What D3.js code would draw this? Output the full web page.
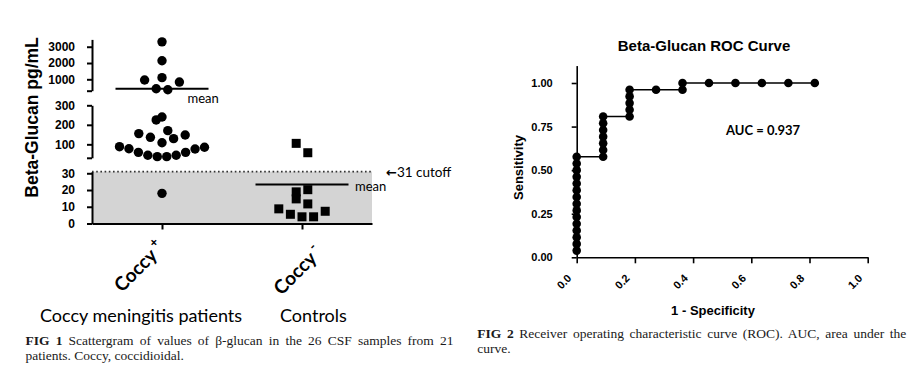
<!DOCTYPE html>
<html><head><meta charset="utf-8">
<script src="https://cdn.jsdelivr.net/npm/d3@7"></script>
<style>
html,body{margin:0;padding:0;background:#fff;}
svg{display:block;}
</style></head>
<body>
<svg id="chart" width="916" height="380"></svg>
<script>
// ---------------- data ----------------
const categories = ["Coccy +", "Coccy -"];
const categoryNames = ["Coccy", "Coccy"];
const categorySup = ["+", "-"];
const groupTitles = ["Coccy meningitis patients", "Controls"];
// beta-glucan pg/mL, Coccy meningitis patients (26 CSF samples)
const coccyPositive = [18, 37, 37, 44, 44, 59, 59, 76, 77.5, 85, 88, 108, 129, 136, 148, 155, 170, 225, 240, 360, 420, 830, 960, 1100, 2140, 3300];
// controls (11)
const controls = [4, 4, 5.5, 7.3, 8.75, 11.7, 14.7, 20.2, 18.9, 57, 105];
const cutoff = 31;
const topTicks = [1000, 2000, 3000];
const midTicks = [100, 200, 300];
const lowTicks = [0, 10, 20, 30];
const yLabel = "Beta-Glucan pg/mL";

// ROC curve
const rocFpr = [0,0,0,0,0,0,0,0,0,0,0,0,0,0,0,
  0.0909,0.0909,0.0909,0.0909,0.0909,0.0909,0.0909,
  0.1818,0.1818,0.1818,0.1818,0.1818,
  0.2727,0.3636,0.3636,0.4545,0.5455,0.6364,0.7273,0.8182];
const rocTpr = [0.0385,0.0769,0.1154,0.1538,0.1923,0.2308,0.2692,0.3077,0.3462,0.3846,0.4231,0.4615,0.5,0.5385,0.5769,
  0.5769,0.6154,0.6538,0.6923,0.7308,0.7692,0.8077,
  0.8077,0.8462,0.8846,0.9231,0.9615,
  0.9615,0.9615,1,1,1,1,1,1];
const rocXTicks = [0, 0.2, 0.4, 0.6, 0.8, 1.0];
const rocYTicks = [0, 0.25, 0.5, 0.75, 1.0];
const rocTitle = "Beta-Glucan ROC Curve";
const rocXLabel = "1 - Specificity";
const rocYLabel = "Sensitivity";
const aucValue = 0.937;

const caption1Bold = "FIG 1";
const caption1 = ["Scattergram of values of \u03b2-glucan in the 26 CSF samples from 21", "patients. Coccy, coccidioidal."];
const caption2Bold = "FIG 2";
const caption2 = ["Receiver operating characteristic curve (ROC). AUC, area under the", "curve."];

// ---------------- drawing ----------------
const svg = d3.select("#chart");
const SANS = "'Liberation Sans', Arial, sans-serif";
const HUM = "Lato, 'Open Sans', sans-serif";
const SERIF = "'Liberation Serif', 'Times New Roman', serif";

// ===== Left panel: broken-axis scatter =====
const xL = d3.scalePoint().domain(categories).range([92, 372]).padding(0.5);
const segTop = d3.scaleLinear().domain([300, 3450]).range([90.7, 39.4]);
const segMid = d3.scaleLinear().domain([31, 300]).range([157.8, 105.3]);
const segLow = d3.scaleLinear().domain([0, cutoff]).range([223.5, 171.6]);
function yL(v) { return v <= cutoff ? segLow(v) : (v <= 300 ? segMid(v) : segTop(v)); }

const left = svg.append("g");
// grey zone below cutoff
left.append("rect")
  .attr("x", xL.range()[0]).attr("y", segLow(cutoff))
  .attr("width", xL.range()[1] - xL.range()[0])
  .attr("height", segLow(0) - segLow(cutoff))
  .attr("fill", "#d4d4d4");
left.append("line")
  .attr("x1", xL.range()[0]).attr("x2", xL.range()[1])
  .attr("y1", segLow(cutoff)).attr("y2", segLow(cutoff))
  .attr("stroke", "#333").attr("stroke-width", 1.6).attr("stroke-dasharray", "1.6,2.6");

function styleAxis(g, sw) {
  g.selectAll("path.domain").attr("stroke", "#000").attr("stroke-width", sw);
  g.selectAll(".tick line").attr("stroke", "#000").attr("stroke-width", sw);
  g.selectAll(".tick text").attr("fill", "#000");
  g.attr("font-family", SANS).attr("font-weight", "bold");
}
const axX = xL.range()[0];
const gTop = left.append("g").attr("transform", `translate(${axX},0)`)
  .call(d3.axisLeft(segTop).tickValues([300].concat(topTicks)).tickFormat(d => d === 300 ? "" : d)
    .tickSize(5).tickSizeOuter(0).tickPadding(12));
const gMid = left.append("g").attr("transform", `translate(${axX},0)`)
  .call(d3.axisLeft(segMid).tickValues([cutoff].concat(midTicks)).tickFormat(d => d === cutoff ? "" : d)
    .tickSize(5).tickSizeOuter(0).tickPadding(12));
const gLow = left.append("g").attr("transform", `translate(${axX},0)`)
  .call(d3.axisLeft(segLow).tickValues(lowTicks).tickSize(5).tickSizeOuter(0).tickPadding(12));
[gTop, gMid, gLow].forEach(g => { styleAxis(g, 2); g.attr("font-size", 12); });

const gX = left.append("g").attr("transform", `translate(0,${segLow(0)})`)
  .call(d3.axisBottom(xL).tickSize(6).tickSizeOuter(0).tickFormat(""));
styleAxis(gX, 2);

// y label
left.append("text")
  .attr("transform", `translate(37.5,${(39.4 + 223.5) / 2 - 14}) rotate(-90)`)
  .attr("text-anchor", "middle").attr("font-family", SANS).attr("font-weight", "bold")
  .attr("font-size", 17.5).text(yLabel);

// swarm layout (rows of neighbouring values spread symmetrically)
function swarm(values, cx) {
  const S = 11.6, SPAN = 85, BIN = 11.3;
  const order = values.map((v, i) => i).sort((a, b) => (yL(values[b]) - yL(values[a])) || (a - b));
  const xs = new Array(values.length);
  let k = 0;
  while (k < order.length) {
    const y0 = yL(values[order[k]]);
    const bin = [];
    while (k < order.length && y0 - yL(values[order[k]]) <= BIN) { bin.push(order[k]); k++; }
    bin.sort((a, b) => a - b);
    const n = bin.length;
    const s = n > 1 ? Math.min(S, SPAN / (n - 1)) : 0;
    bin.forEach((idx, j) => {
      let off;
      if (n % 2 === 1) { const r = Math.ceil(j / 2); off = j === 0 ? 0 : (j % 2 === 1 ? r : -r); }
      else { const r = Math.floor(j / 2) + 0.5; off = j % 2 === 0 ? r : -r; }
      xs[idx] = cx + off * s;
    });
  }
  return xs;
}

const groups = [coccyPositive, controls];
const cx0 = xL(categories[0]), cx1 = xL(categories[1]);
const xs0 = swarm(coccyPositive, cx0);
const xs1 = swarm(controls, cx1);
left.append("g").selectAll("circle").data(coccyPositive).join("circle")
  .attr("cx", (d, i) => xs0[i]).attr("cy", d => yL(d)).attr("r", 4.7).attr("fill", "#000");
const SQ = 9;
left.append("g").selectAll("rect").data(controls).join("rect")
  .attr("x", (d, i) => xs1[i] - SQ / 2).attr("y", d => yL(d) - SQ / 2)
  .attr("width", SQ).attr("height", SQ).attr("fill", "#000");

// mean lines
const meanLabelPos = [{ dx: 25.5, dy: 14.8 }, { dx: 53, dy: 7 }];
groups.forEach((vals, gi) => {
  const m = d3.mean(vals);
  const cx = xL(categories[gi]);
  left.append("line").attr("x1", cx - 46.5).attr("x2", cx + 46.5)
    .attr("y1", yL(m)).attr("y2", yL(m)).attr("stroke", "#000").attr("stroke-width", 2);
  left.append("text").attr("x", cx + meanLabelPos[gi].dx).attr("y", yL(m) + meanLabelPos[gi].dy)
    .attr("font-family", HUM).attr("font-size", 13).attr("fill", "#000").text("mean");
});

// cutoff label
const cut = left.append("text").attr("x", 386).attr("y", segLow(cutoff) + 5)
  .attr("font-family", HUM).attr("font-size", 13.5).attr("fill", "#000");
cut.append("tspan").attr("font-family", "'DejaVu Sans', sans-serif").attr("font-weight", "bold").attr("font-size", 13).text("\u2190");
cut.append("tspan").text(cutoff + " cutoff");

// rotated category labels
const catLabelPos = [{ dx: -40, y: 293 }, { dx: -20.5, y: 296 }];
categories.forEach((c, i) => {
  const t = left.append("text")
    .attr("transform", `translate(${xL(c) + catLabelPos[i].dx},${catLabelPos[i].y}) rotate(-45)`)
    .attr("font-family", HUM).attr("font-weight", "bold").attr("font-size", 19).attr("fill", "#000");
  t.append("tspan").text(categoryNames[i]);
  t.append("tspan").attr("dx", 3).attr("dy", -9).attr("font-size", 13).text(categorySup[i]);
});

// group titles
const titleX = [40, 280];
groupTitles.forEach((g, i) => {
  left.append("text").attr("x", titleX[i]).attr("y", 321.5)
    .attr("font-family", HUM).attr("font-size", 18).attr("fill", "#000").text(g);
});

// ===== Right panel: ROC curve =====
const right = svg.append("g");
const xR = d3.scaleLinear().domain([0, 1]).range([576.7, 867.7]);
const yR = d3.scaleLinear().domain([0, 1]).range([257.3, 83]);
const yRAxis = yR.copy().domain([0, 1.1]).range([yR(0), yR(1.1)]);

const gRY = right.append("g").attr("transform", `translate(${xR(0)},0)`)
  .call(d3.axisLeft(yRAxis).tickValues(rocYTicks).tickFormat(d3.format(".2f"))
    .tickSize(5).tickSizeOuter(0).tickPadding(19));
styleAxis(gRY, 1.6); gRY.attr("font-size", 11);
const gRX = right.append("g").attr("transform", `translate(0,${yR(0)})`)
  .call(d3.axisBottom(xR).tickValues(rocXTicks).tickFormat(d3.format(".1f"))
    .tickSize(6).tickSizeOuter(0));
styleAxis(gRX, 1.6); gRX.attr("font-size", 11);
gRX.selectAll(".tick text")
  .attr("text-anchor", "end").attr("dy", null).attr("y", null)
  .attr("transform", "translate(-5,21.6) rotate(-45)");

const rocPts = rocFpr.map((f, i) => [f, rocTpr[i]]);
right.append("path").datum(rocPts)
  .attr("d", d3.line().x(d => xR(d[0])).y(d => yR(d[1])))
  .attr("fill", "none").attr("stroke", "#000").attr("stroke-width", 1.6);
right.append("g").selectAll("circle").data(rocPts).join("circle")
  .attr("cx", d => xR(d[0])).attr("cy", d => yR(d[1])).attr("r", 4.3).attr("fill", "#000");

right.append("text").attr("x", 704).attr("y", 50.7).attr("text-anchor", "middle")
  .attr("font-family", SANS).attr("font-weight", "bold").attr("font-size", 15).text(rocTitle);
right.append("text").attr("x", 713).attr("y", 314.5).attr("text-anchor", "middle")
  .attr("font-family", SANS).attr("font-weight", "bold").attr("font-size", 13).text(rocXLabel);
right.append("text").attr("transform", `translate(522.5,167.5) rotate(-90)`).attr("text-anchor", "middle")
  .attr("font-family", SANS).attr("font-weight", "bold").attr("font-size", 13).text(rocYLabel);
right.append("text").attr("x", 726).attr("y", 135)
  .attr("font-family", HUM).attr("font-weight", "bold").attr("font-size", 13).text("AUC = " + aucValue);

// ===== Captions =====
function caption(x, y, width, boldPart, lines) {
  lines.forEach((ln, i) => {
    const t = svg.append("text").attr("x", x).attr("y", y + i * 15)
      .attr("font-family", SERIF).attr("font-size", 13.5).attr("fill", "#1a1a1a");
    if (i === 0) {
      t.append("tspan").attr("font-weight", "bold").text(boldPart + " ");
    }
    t.append("tspan").text(ln);
    if (i < lines.length - 1) {
      const full = (i === 0 ? boldPart + " " : "") + ln;
      const spaces = (full.match(/ /g) || []).length;
      const w = t.node().getComputedTextLength();
      if (spaces > 0) t.attr("word-spacing", (width - w) / spaces);
    }
  });
}
caption(25.5, 345, 428, caption1Bold, caption1);
caption(477.3, 338.3, 429, caption2Bold, caption2);
</script>
</body></html>
